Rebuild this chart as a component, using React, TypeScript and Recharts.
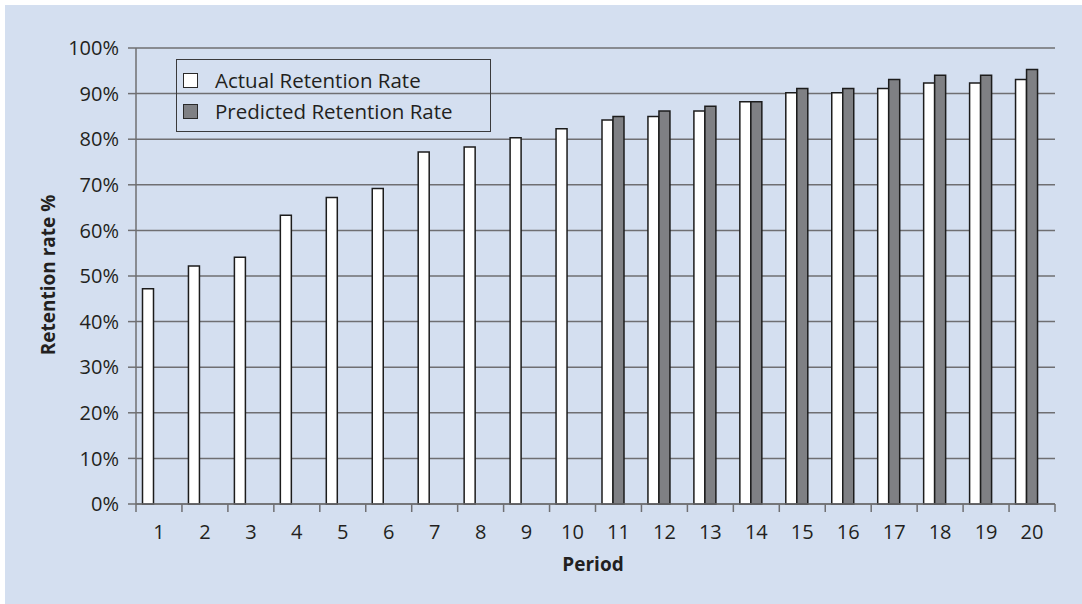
import React from 'react';
import { BarChart, Bar, XAxis, YAxis, CartesianGrid, Legend } from 'recharts';

const PERIODS = ['1', '2', '3', '4', '5', '6', '7', '8', '9', '10', '11', '12', '13', '14', '15', '16', '17', '18', '19', '20'];
const ACTUAL = [47.2, 52.2, 54.1, 63.3, 67.2, 69.2, 77.2, 78.3, 80.3, 82.3, 84.2, 85.0, 86.2, 88.2, 90.2, 90.2, 91.1, 92.3, 92.3, 93.1];
const PREDICTED = [null, null, null, null, null, null, null, null, null, null, 85.0, 86.2, 87.2, 88.2, 91.1, 91.1, 93.1, 94.0, 94.0, 95.3];
const Y_TICKS = [0, 10, 20, 30, 40, 50, 60, 70, 80, 90, 100];

const rows = PERIODS.map((p, i) => ({ period: p, actual: ACTUAL[i], predicted: PREDICTED[i] }));

const W = 1082;
const H = 604;
const MARGIN = { top: 48, right: 27, bottom: 40, left: 66 };
const Y_W = 70;
const X_H = 60;
const PLOT_W = W - MARGIN.left - MARGIN.right - Y_W;
const PLOT_BOTTOM = H - MARGIN.bottom - X_H;
const BAND = PLOT_W / PERIODS.length;

const FONT = '"Open Sans", "Noto Sans", sans-serif';
const INK = '#231f20';
const GRID = '#6f6f72';
const PANEL = '#d4dff0';

// category ticks: label in the middle, tick marks at the band edges
function PeriodTick(props: any) {
  const { x, payload, index } = props;
  const left = x - BAND / 2;
  return (
    <g>
      <line x1={left} x2={left} y1={PLOT_BOTTOM} y2={PLOT_BOTTOM + 8} stroke={GRID} strokeWidth={1.5} />
      {index === PERIODS.length - 1 && (
        <line x1={x + BAND / 2} x2={x + BAND / 2} y1={PLOT_BOTTOM} y2={PLOT_BOTTOM + 8} stroke={GRID} strokeWidth={1.5} />
      )}
      <text x={x} y={PLOT_BOTTOM + 35} textAnchor="middle" fontSize={20} fontFamily={FONT} fill={INK}>
        {payload.value}
      </text>
    </g>
  );
}

function LegendBox() {
  const items = [
    { label: 'Actual Retention Rate', color: '#ffffff' },
    { label: 'Predicted Retention Rate', color: '#7f8084' },
  ];
  return (
    <div
      style={{
        width: 315,
        height: 73,
        boxSizing: 'border-box',
        border: '1.5px solid #3a3a3c',
        padding: '5px 0 0 6px',
        fontFamily: FONT,
        fontSize: 20.5,
        color: INK,
      }}
    >
      {items.map((it) => (
        <div key={it.label} style={{ display: 'flex', alignItems: 'center', height: 31 }}>
          <span
            style={{
              display: 'inline-block',
              width: 15,
              height: 15,
              boxSizing: 'border-box',
              border: '1.5px solid #2a2a2a',
              background: it.color,
              marginRight: 17,
            }}
          />
          <span style={{ lineHeight: '31px', whiteSpace: 'nowrap' }}>{it.label}</span>
        </div>
      ))}
    </div>
  );
}

export default function App() {
  return (
    <div style={{ position: 'absolute', left: 0, top: 0, width: W, height: H, background: '#ffffff' }}>
      <div style={{ position: 'absolute', left: 5, top: 5, right: 0, bottom: 0, background: PANEL }} />
      <div style={{ position: 'absolute', left: 0, top: 0 }}>
        <BarChart width={W} height={H} data={rows} margin={MARGIN} barGap={0} barCategoryGap={6.5}>
          <CartesianGrid vertical={false} stroke={GRID} strokeWidth={1.5} />
          <XAxis
            dataKey="period"
            height={X_H}
            axisLine={{ stroke: GRID, strokeWidth: 1.5 }}
            tickLine={false}
            tick={<PeriodTick />}
            interval={0}
            label={{
              content: () => (
                <text x={593} y={571} textAnchor="middle" fontSize={19} fontWeight="bold" fontFamily={FONT} fill={INK}>
                  Period
                </text>
              ),
            }}
          />
          <YAxis
            width={Y_W}
            domain={[0, 100]}
            ticks={Y_TICKS}
            interval={0}
            tickFormatter={(v: number) => `${v}%`}
            axisLine={{ stroke: GRID, strokeWidth: 1.5 }}
            tickLine={{ stroke: GRID, strokeWidth: 1.5 }}
            tickSize={8}
            tickMargin={9}
            tick={{ fontSize: 20, fontFamily: FONT, fill: INK }}
            label={{
              content: () => (
                <text
                  x={55}
                  y={275}
                  transform="rotate(-90 55 275)"
                  textAnchor="middle"
                  fontSize={19}
                  fontWeight="bold"
                  fontFamily={FONT}
                  fill={INK}
                >
                  Retention rate %
                </text>
              ),
            }}
          />
          <Legend
            layout="vertical"
            align="center"
            verticalAlign="middle"
            wrapperStyle={{ left: 176, top: 59, width: 315, height: 73 }}
            content={() => <LegendBox />}
          />
          <Bar dataKey="actual" fill="#ffffff" stroke="#1c1c1c" strokeWidth={1.5} isAnimationActive={false} />
          <Bar dataKey="predicted" fill="#7f8084" stroke="#1c1c1c" strokeWidth={1.5} isAnimationActive={false} />
          <Bar dataKey="spacer" legendType="none" isAnimationActive={false} />
        </BarChart>
      </div>
    </div>
  );
}
